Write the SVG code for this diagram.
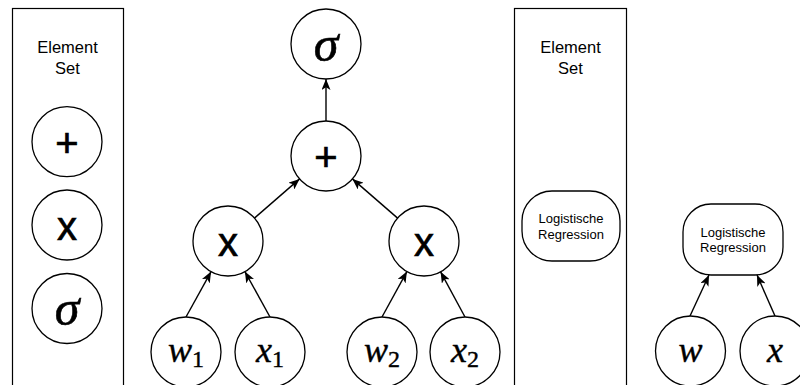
<svg xmlns="http://www.w3.org/2000/svg" width="800" height="385" viewBox="0 0 800 385">
<defs>
<style>
.panel{fill:#fff;stroke:#000;stroke-width:1.2}
.node{fill:#fff;stroke:#000;stroke-width:1.3}
.edge{stroke:#000;stroke-width:1.4;fill:none;marker-end:url(#arr)}
.hdr{font-family:"Liberation Sans",Arial,sans-serif;font-size:16.5px;text-anchor:middle;fill:#000}
.lr{font-family:"Liberation Sans",Arial,sans-serif;font-size:13px;text-anchor:middle;fill:#000}
.op{font-family:"Liberation Sans",Arial,sans-serif;font-size:40px;text-anchor:middle;fill:#000;stroke:#000;stroke-width:0.7}
.math{font-family:"Liberation Serif","Times New Roman",serif;font-size:36px;text-anchor:middle;fill:#000;stroke:#000;stroke-width:0.4}
.mi{font-style:italic}
.sub{font-size:24px;font-style:normal}
.sig{font-family:"Liberation Serif","Times New Roman",serif;font-size:50px;font-style:italic;text-anchor:middle;fill:#000;stroke:#000;stroke-width:0.6}
</style>
<marker id="arr" viewBox="0 0 11 9" refX="11" refY="4.5" markerWidth="11" markerHeight="9" orient="auto" markerUnits="userSpaceOnUse">
<path d="M0,0 L11,4.5 L0,9 L2.8,4.5 z" fill="#000"/>
</marker>
</defs>
<rect width="800" height="385" fill="#fff"/>

<g id="panel-left">
<rect class="panel" x="12.5" y="8.5" width="111" height="400"/>
<text class="hdr" x="67.5" y="53">Element</text>
<text class="hdr" x="67.5" y="74">Set</text>
</g>
<g id="set-plus"><circle class="node" cx="67" cy="141.7" r="35"/><text class="op" x="67" y="157">+</text></g>
<g id="set-times"><circle class="node" cx="67" cy="225" r="35"/><text class="op" x="67" y="240">x</text></g>
<g id="set-sigma"><circle class="node" cx="67" cy="308.5" r="35"/><text class="sig" x="67" y="325">σ</text></g>

<g id="panel-mid">
<rect class="panel" x="514.5" y="8.5" width="112" height="400"/>
<text class="hdr" x="570.5" y="53">Element</text>
<text class="hdr" x="570.5" y="74">Set</text>
</g>
<g id="set-logreg">
<rect class="node" x="522" y="191" width="98" height="70" rx="30" ry="30"/>
<text class="lr" x="571" y="223">Logistische</text>
<text class="lr" x="571" y="238.5">Regression</text>
</g>

<g id="connectors">
<line class="edge" x1="326" y1="121" x2="326" y2="79"/>
<line class="edge" x1="254.4" y1="218.1" x2="299.6" y2="178.9"/>
<line class="edge" x1="397.6" y1="218.1" x2="352.4" y2="178.9"/>
<line class="edge" x1="186" y1="317" x2="211.1" y2="271.6"/>
<line class="edge" x1="270" y1="317" x2="244.9" y2="271.6"/>
<line class="edge" x1="382" y1="317" x2="406.9" y2="271.6"/>
<line class="edge" x1="465" y1="317" x2="440.6" y2="271.8"/>
<line class="edge" x1="690" y1="316" x2="709" y2="275"/>
<line class="edge" x1="775" y1="316" x2="757" y2="275"/>
</g>

<g id="sigma"><circle class="node" cx="326" cy="44" r="35"/><text class="sig" x="326" y="61">σ</text></g>
<g id="plus"><circle class="node" cx="326" cy="156" r="35"/><text class="op" x="326" y="171">+</text></g>
<g id="times1"><circle class="node" cx="228" cy="241" r="35"/><text class="op" x="228" y="256">x</text></g>
<g id="times2"><circle class="node" cx="424" cy="241" r="35"/><text class="op" x="424" y="256">x</text></g>
<g id="w1"><circle class="node" cx="186" cy="352" r="35"/><text class="math" x="186" y="362"><tspan class="mi">w</tspan><tspan class="sub" dy="5">1</tspan></text></g>
<g id="x1"><circle class="node" cx="270" cy="352" r="35"/><text class="math" x="270" y="362"><tspan class="mi">x</tspan><tspan class="sub" dy="5">1</tspan></text></g>
<g id="w2"><circle class="node" cx="382" cy="352" r="35"/><text class="math" x="382" y="362"><tspan class="mi">w</tspan><tspan class="sub" dy="5">2</tspan></text></g>
<g id="x2"><circle class="node" cx="465" cy="352" r="35"/><text class="math" x="465" y="362"><tspan class="mi">x</tspan><tspan class="sub" dy="5">2</tspan></text></g>

<g id="logreg">
<rect class="node" x="683" y="204" width="100" height="71" rx="28" ry="28"/>
<text class="lr" x="733" y="236.5">Logistische</text>
<text class="lr" x="733" y="252">Regression</text>
</g>
<g id="w"><circle class="node" cx="690.5" cy="351" r="35"/><text class="math mi" x="690.5" y="362">w</text></g>
<g id="x"><circle class="node" cx="775" cy="351" r="35"/><text class="math mi" x="775" y="362">x</text></g>
</svg>
